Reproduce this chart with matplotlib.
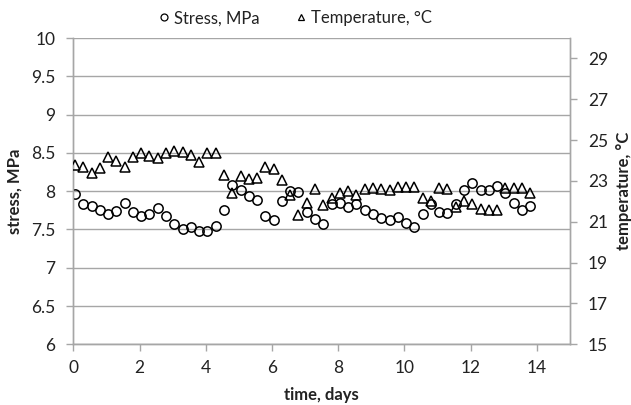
import matplotlib
matplotlib.use("Agg")
import matplotlib.pyplot as plt
from matplotlib.lines import Line2D

plt.rcParams['font.family'] = ['Lato', 'DejaVu Sans']

time_days = [0.05, 0.30, 0.55, 0.80, 1.05, 1.30, 1.55, 1.80, 2.05, 2.30,
             2.55, 2.80, 3.05, 3.30, 3.55, 3.80, 4.05, 4.30, 4.55, 4.80,
             5.05, 5.30, 5.55, 5.80, 6.05, 6.30, 6.55, 6.80, 7.05, 7.30,
             7.55, 7.80, 8.05, 8.30, 8.55, 8.80, 9.05, 9.30, 9.55, 9.80,
             10.05, 10.30, 10.55, 10.80, 11.05, 11.30, 11.55, 11.80, 12.05, 12.30,
             12.55, 12.80, 13.05, 13.30, 13.55, 13.80]

stress_mpa = [7.96, 7.83, 7.80, 7.76, 7.70, 7.74, 7.84, 7.73, 7.67, 7.70,
              7.78, 7.67, 7.57, 7.51, 7.53, 7.48, 7.48, 7.55, 7.75, 8.08,
              8.01, 7.94, 7.88, 7.68, 7.63, 7.87, 8.00, 7.99, 7.73, 7.64,
              7.57, 7.83, 7.84, 7.79, 7.83, 7.75, 7.70, 7.65, 7.63, 7.66,
              7.58, 7.53, 7.70, 7.83, 7.73, 7.71, 7.83, 8.02, 8.11, 8.01,
              8.02, 8.07, 7.97, 7.84, 7.76, 7.80]

temperature_c = [23.76, 23.67, 23.38, 23.64, 24.16, 24.00, 23.67, 24.16, 24.39, 24.24,
                 24.13, 24.36, 24.49, 24.44, 24.26, 23.92, 24.36, 24.36, 23.31, 22.42,
                 23.25, 23.10, 23.14, 23.69, 23.61, 23.05, 22.29, 21.31, 21.91, 22.61,
                 21.80, 22.17, 22.40, 22.50, 22.29, 22.61, 22.66, 22.61, 22.57, 22.70,
                 22.70, 22.70, 22.17, 22.04, 22.66, 22.61, 21.71, 22.04, 21.85, 21.64,
                 21.56, 21.56, 22.66, 22.66, 22.66, 22.42]

x_ticks = [0, 2, 4, 6, 8, 10, 12, 14]
stress_ticks = [6, 6.5, 7, 7.5, 8, 8.5, 9, 9.5, 10]
stress_tick_labels = ['6', '6.5', '7', '7.5', '8', '8.5', '9', '9.5', '10']
temp_ticks = [15, 17, 19, 21, 23, 25, 27, 29]

grid_c = '#a6a6a6'
text_c = '#222222'

fig = plt.figure(figsize=(6.31, 4.05), dpi=100)
ax = fig.add_axes([0.1162, 0.1499, 0.9033 - 0.1162, 0.906 - 0.1499])
ax2 = ax.twinx()

ax.plot(time_days, stress_mpa, linestyle='none', marker='o', markersize=6.7,
        markerfacecolor='none', markeredgecolor='black', markeredgewidth=1.1, zorder=3)
ax2.plot(time_days, temperature_c, linestyle='none', marker='^', markersize=6.7,
         markerfacecolor='none', markeredgecolor='black', markeredgewidth=1.1, zorder=3)

ax.set_xlim(0, 15)
ax.set_ylim(6, 10)
ax2.set_ylim(15, 30)

ax.set_xticks(x_ticks)
ax.set_yticks(stress_ticks)
ax.set_yticklabels(stress_tick_labels)
ax2.set_yticks(temp_ticks)

ax.grid(axis='y', color=grid_c, linewidth=1.0)
ax.set_axisbelow(True)

for a in (ax, ax2):
    a.spines['top'].set_visible(False)
    for s in ('left', 'bottom', 'right'):
        a.spines[s].set_color(grid_c)
        a.spines[s].set_linewidth(1.0)
    a.tick_params(colors=grid_c, labelcolor=text_c, labelsize=12.5, length=5, width=1.0)

ax.tick_params(axis='x', pad=6)
ax.tick_params(axis='y', pad=8)
ax2.tick_params(axis='y', pad=8)

ax.set_xlabel('time, days', fontsize=12, fontweight='bold', color=text_c, labelpad=8)
ax.set_ylabel('stress, MPa', fontsize=12, fontweight='bold', color=text_c, labelpad=6)
ax2.set_ylabel('temperature, °C', fontsize=12, fontweight='bold', color=text_c, labelpad=6)

handles = [
    Line2D([], [], linestyle='none', marker='o', markersize=5, markerfacecolor='none',
           markeredgecolor='black', markeredgewidth=0.9, label='Stress, MPa'),
    Line2D([], [], linestyle='none', marker='^', markersize=5, markerfacecolor='none',
           markeredgecolor='black', markeredgewidth=0.9, label='Temperature, °C'),
]
leg = fig.legend(handles=handles, loc='center', bbox_to_anchor=(0.468, 0.955), ncol=2,
                 frameon=False, fontsize=12, handlelength=0.6, handletextpad=0.3,
                 columnspacing=2.2, labelcolor=text_c)

fig.savefig('out.png', dpi=100)
